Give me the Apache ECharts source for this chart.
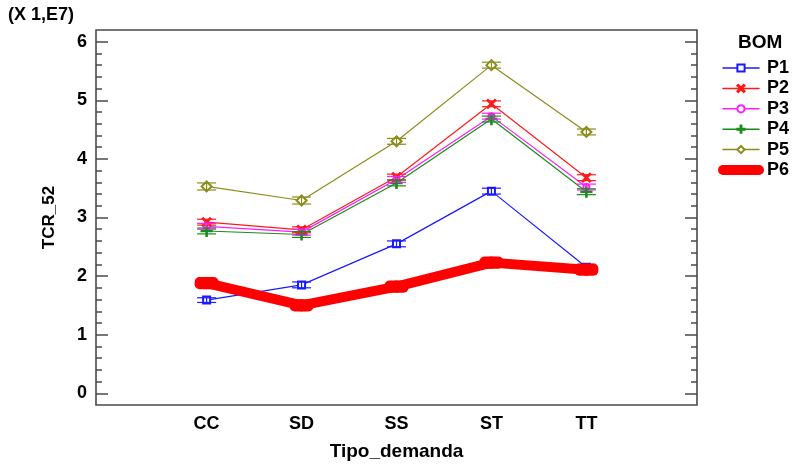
<!DOCTYPE html>
<html>
<head>
<meta charset="utf-8">
<script src="https://cdn.jsdelivr.net/npm/echarts@6/dist/echarts.min.js"></script>
<style>html,body{margin:0;padding:0;background:#fff}#c{width:794px;height:466px}</style>
</head>
<body>
<div id="c"></div>
<script>
// ---- data (values in units of 1E7) ----
const categories = ['CC', 'SD', 'SS', 'ST', 'TT'];
const seriesNames = ['P1', 'P2', 'P3', 'P4', 'P5', 'P6'];
const P1 = [1.59, 1.85, 2.55, 3.45, 2.15];
const P2 = [2.92, 2.79, 3.69, 4.94, 3.68];
const P3 = [2.85, 2.75, 3.65, 4.73, 3.52];
const P4 = [2.77, 2.71, 3.59, 4.68, 3.44];
const P5 = [3.53, 3.29, 4.30, 5.60, 4.46];
const P6 = [1.88, 1.50, 1.82, 2.23, 2.11];
const E1 = [0.04, 0.05, 0.05, 0.05, 0.05];
const E2 = [0.05, 0.05, 0.05, 0.05, 0.05];
const E3 = [0.05, 0.05, 0.05, 0.05, 0.05];
const E4 = [0.05, 0.05, 0.05, 0.05, 0.05];
const E5 = [0.06, 0.06, 0.05, 0.05, 0.05];
const E6 = [0.02, 0.02, 0.02, 0.02, 0.02];
const yTicks = [0, 1, 2, 3, 4, 5, 6];
const yMinorTicks = [];
for (let k = 0; k < 6; k++) for (let m = 1; m < 5; m++) yMinorTicks.push(+(k + m * 0.2).toFixed(1));

const FONT = 'Liberation Sans';
const FS = 18;
const colors = ['#1a1aff', '#ff1a1a', '#ff1aff', '#1a8c1a', '#8c8c1a', '#ff0000'];
const values = [P1, P2, P3, P4, P5, P6];
const errs = [E1, E2, E3, E4, E5, E6];
const symX = 'path://M0,1.2 L1.2,0 L5,3.8 L8.8,0 L10,1.2 L6.2,5 L10,8.8 L8.8,10 L5,6.2 L1.2,10 L0,8.8 L3.8,5 Z';
const symPlus = 'path://M4.4,0 H5.6 V4.4 H10 V5.6 H5.6 V10 H4.4 V5.6 H0 V4.4 H4.4 Z';
const symbols = ['emptyRect', symX, 'emptyCircle', symPlus, 'emptyDiamond', 'none'];
const symSizes = [7, 9, 6, 11, 10, 0];

const chart = echarts.init(document.getElementById('c'));

function errSeries(i) {
  const isBig = i === 5;
  const color = colors[i];
  const lw = isBig ? 10 : 1.2;
  const hw = isBig ? 7 : 9.5;
  const cap = isBig ? 'round' : 'butt';
  return {
    type: 'custom',
    name: seriesNames[i] + ' err',
    silent: true,
    z: isBig ? 6 : 3,
    encode: { x: 0, y: [1, 2] },
    data: values[i].map((v, j) => [j + 1, v - errs[i][j], v + errs[i][j]]),
    renderItem: function (params, api) {
      const x = api.value(0);
      const lo = api.coord([x, api.value(1)]);
      const hi = api.coord([x, api.value(2)]);
      const st = { stroke: color, lineWidth: lw, lineCap: cap };
      return {
        type: 'group',
        children: [
          { type: 'line', shape: { x1: lo[0], y1: lo[1], x2: hi[0], y2: hi[1] }, style: st },
          { type: 'line', shape: { x1: lo[0] - hw, y1: lo[1], x2: lo[0] + hw, y2: lo[1] }, style: st },
          { type: 'line', shape: { x1: hi[0] - hw, y1: hi[1], x2: hi[0] + hw, y2: hi[1] }, style: st }
        ]
      };
    }
  };
}

const lineSeries = seriesNames.map((n, i) => ({
  type: 'line',
  name: n,
  z: i === 5 ? 5 : 2,
  data: values[i].map((v, j) => [j + 1, v]),
  symbol: symbols[i],
  symbolSize: symSizes[i],
  showSymbol: i !== 5,
  lineStyle: { color: colors[i], width: i === 5 ? 10 : 1.2, cap: 'round', join: 'round' },
  itemStyle: { color: colors[i], borderColor: colors[i], borderWidth: 1.2 },
  emphasis: { disabled: true },
  animation: false
}));

const axisGray = '#4a4a4a';
function yAxisDef(pos, ticks, len, showLabel) {
  return {
    type: 'value', position: pos, min: -0.2, max: 6.2, offset: 0,
    axisLine: { show: false, onZero: false },
    splitLine: { show: false },
    axisTick: { show: true, inside: true, length: len, customValues: ticks, lineStyle: { color: axisGray, width: 1.5 } },
    axisLabel: {
      show: showLabel, customValues: yTicks, margin: 9,
      color: '#000', fontFamily: FONT, fontWeight: 'bold', fontSize: FS,
      formatter: v => String(v)
    }
  };
}

const yAxes = [
  Object.assign(yAxisDef('left', yTicks, 12, true), {
    name: 'TCR_52', nameLocation: 'middle', nameRotate: 90, nameGap: 38,
    nameTextStyle: { color: '#000', fontFamily: FONT, fontWeight: 'bold', fontSize: 17 }
  }),
  yAxisDef('left', yMinorTicks, 6, false),
  yAxisDef('right', yTicks, 12, false),
  yAxisDef('right', yMinorTicks, 6, false)
];

const legendData = seriesNames.map((n, i) => i === 5
  ? { name: n, lineStyle: { width: 10, cap: 'round' } }
  : { name: n, lineStyle: { width: 1.5 } });

chart.setOption({
  animation: false,
  backgroundColor: '#fff',
  grid: { left: 96, right: 97, top: 30, bottom: 58, show: true, borderColor: axisGray, borderWidth: 1.6, backgroundColor: 'transparent' },
  xAxis: {
    type: 'value', min: -0.165, max: 6.165,
    axisLine: { show: false, onZero: false }, axisTick: { show: false }, splitLine: { show: false },
    axisLabel: {
      customValues: [1, 2, 3, 4, 5], margin: 10,
      color: '#000', fontFamily: FONT, fontWeight: 'bold', fontSize: FS,
      formatter: v => categories[Math.round(v) - 1] || ''
    },
    name: 'Tipo_demanda', nameLocation: 'middle', nameGap: 37,
    nameTextStyle: { color: '#000', fontFamily: FONT, fontWeight: 'bold', fontSize: 19 }
  },
  yAxis: yAxes,
  legend: {
    orient: 'vertical', left: 718, top: 59, padding: 0,
    itemWidth: 36, itemHeight: 9, itemGap: 2.4,
    data: legendData,
    selectedMode: false,
    textStyle: { color: '#000', fontFamily: FONT, fontWeight: 'bold', fontSize: FS, padding: [0, 0, 0, 3] }
  },
  graphic: [
    { type: 'text', left: 8, top: 6, style: { text: '(X 1,E7)', fill: '#000', font: 'bold 18px "Liberation Sans"' } },
    { type: 'text', left: 738, top: 33, style: { text: 'BOM', fill: '#000', font: 'bold 19px "Liberation Sans"' } }
  ],
  series: lineSeries.slice(0, 5).concat(seriesNames.slice(0, 5).map((n, i) => errSeries(i))).concat([lineSeries[5], errSeries(5)])
});
</script>
</body>
</html>
